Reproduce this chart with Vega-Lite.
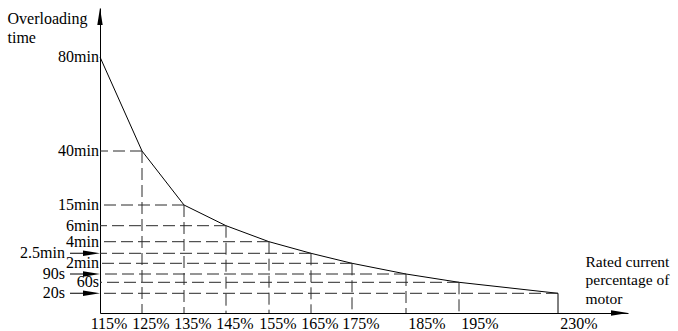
{
  "$schema": "https://vega.github.io/schema/vega-lite/v6.json",
  "width": 578,
  "height": 305,
  "autosize": "none",
  "padding": {"left": 100, "top": 8, "right": 0, "bottom": 18},
  "background": "white",
  "config": {
    "view": {"stroke": null},
    "font": "Liberation Serif",
    "text": {"font": "Liberation Serif"},
    "axis": {"titleFont": "Liberation Serif", "labelFont": "Liberation Serif"},
    "style": {
      "guide-title": {"font": "Liberation Serif", "fontWeight": "normal"},
      "guide-label": {"font": "Liberation Serif"}
    }
  },
  "datasets": {
    "curve": [
      {"pct": 115, "t": 4800, "label": "80min"},
      {"pct": 125, "t": 2400, "label": "40min"},
      {"pct": 135, "t": 900, "label": "15min"},
      {"pct": 145, "t": 360, "label": "6min"},
      {"pct": 155, "t": 240, "label": "4min"},
      {"pct": 165, "t": 150, "label": "2.5min"},
      {"pct": 175, "t": 120, "label": "2min"},
      {"pct": 185, "t": 90, "label": "90s"},
      {"pct": 195, "t": 60, "label": "60s"},
      {"pct": 230, "t": 20, "label": "20s"}
    ]
  },
  "data": {"name": "curve"},
  "layer": [
    {
      "mark": {"type": "line", "color": "black", "strokeWidth": 1},
      "encoding": {
        "x": {
          "field": "pct", "type": "quantitative",
          "scale": {"domain": [115, 125, 135, 145, 155, 165, 175, 185, 195, 230, 250], "range": [0, 42, 84, 126, 169, 211, 252, 306, 359, 458, 528], "zero": false, "nice": false},
          "axis": {
            "title": ["Rated current", "percentage of", "motor"],
            "titleAngle": 0, "titleAlign": "left", "titleBaseline": "alphabetic",
            "titleX": 485, "titleY": -47, "titleLineHeight": 18.5,
            "titleFont": "Liberation Serif", "titleFontSize": 15.5, "titleFontWeight": "normal", "titleColor": "black",
            "labels": false, "ticks": false, "grid": false, "domainColor": "black", "domainWidth": 1
          }
        },
        "y": {
          "field": "t", "type": "quantitative",
          "scale": {"domain": [0, 20, 60, 90, 120, 150, 240, 360, 900, 2400, 4800, 6000], "range": [305, 285.3, 274.3, 266, 255.3, 245.3, 233.7, 217.7, 197, 143, 49, 0], "zero": false, "nice": false},
          "axis": {
            "title": ["Overloading", "time"],
            "titleAngle": 0, "titleAlign": "left", "titleBaseline": "alphabetic",
            "titleX": -93, "titleY": 15, "titleLineHeight": 19,
            "titleFont": "Liberation Serif", "titleFontSize": 16, "titleFontWeight": "normal", "titleColor": "black",
            "labels": false, "ticks": false, "grid": false, "domainColor": "black", "domainWidth": 1
          }
        }
      }
    },
    {
      "transform": [{"filter": "datum.pct > 115"}],
      "mark": {"type": "rule", "color": "#2a2a2a", "strokeWidth": 1, "strokeDash": [12, 5]},
      "encoding": {
        "x": {"field": "pct", "type": "quantitative"},
        "x2": {"datum": 115},
        "y": {"field": "t", "type": "quantitative"}
      }
    },
    {
      "transform": [{"filter": "datum.pct > 115 && datum.pct < 230"}],
      "mark": {"type": "rule", "color": "#2a2a2a", "strokeWidth": 1, "strokeDash": [12, 5]},
      "encoding": {
        "x": {"field": "pct", "type": "quantitative"},
        "y": {"field": "t", "type": "quantitative"},
        "y2": {"datum": 0}
      }
    },
    {
      "transform": [{"filter": "datum.pct == 230"}],
      "mark": {"type": "rule", "color": "black", "strokeWidth": 1},
      "encoding": {
        "x": {"field": "pct", "type": "quantitative"},
        "y": {"field": "t", "type": "quantitative"},
        "y2": {"datum": 0}
      }
    },
    {
      "transform": [{"filter": "datum.pct < 185"}, {"calculate": "datum.pct + '%'", "as": "pctText"}],
      "mark": {"type": "text", "align": "center", "baseline": "top", "dx": 9, "dy": 3, "font": "Liberation Serif", "fontSize": 16, "color": "black"},
      "encoding": {
        "x": {"field": "pct", "type": "quantitative"},
        "y": {"datum": 0, "type": "quantitative"},
        "text": {"field": "pctText", "type": "nominal"}
      }
    },
    {
      "transform": [{"filter": "datum.pct >= 185"}, {"calculate": "datum.pct + '%'", "as": "pctText"}],
      "mark": {"type": "text", "align": "center", "baseline": "top", "dx": 21, "dy": 3, "font": "Liberation Serif", "fontSize": 16, "color": "black"},
      "encoding": {
        "x": {"field": "pct", "type": "quantitative"},
        "y": {"datum": 0, "type": "quantitative"},
        "text": {"field": "pctText", "type": "nominal"}
      }
    },
    {
      "transform": [{"filter": {"not": {"field": "label", "oneOf": ["2.5min", "90s", "20s"]}}}],
      "mark": {"type": "text", "align": "right", "baseline": "middle", "dx": -1, "font": "Liberation Serif", "fontSize": 16, "color": "black"},
      "encoding": {
        "x": {"datum": 115, "type": "quantitative"},
        "y": {"field": "t", "type": "quantitative"},
        "text": {"field": "label", "type": "nominal"}
      }
    },
    {
      "transform": [{"filter": {"field": "label", "oneOf": ["2.5min", "90s", "20s"]}}],
      "mark": {"type": "text", "align": "right", "baseline": "middle", "dx": -35, "font": "Liberation Serif", "fontSize": 16, "color": "black"},
      "encoding": {
        "x": {"datum": 115, "type": "quantitative"},
        "y": {"field": "t", "type": "quantitative"},
        "text": {"field": "label", "type": "nominal"}
      }
    },
    {
      "transform": [{"filter": {"field": "label", "oneOf": ["2.5min", "90s", "20s"]}}],
      "mark": {"type": "point", "filled": true, "opacity": 1, "color": "black", "size": 400, "shape": "M0,0L-1.7,-0.27L-1.7,-0.05L-3,-0.05L-3,0.05L-1.7,0.05L-1.7,0.27Z"},
      "encoding": {
        "x": {"datum": 115, "type": "quantitative"},
        "y": {"field": "t", "type": "quantitative"}
      }
    },
    {
      "data": {"values": [{"axis": "y"}]},
      "mark": {"type": "point", "filled": true, "opacity": 1, "color": "black", "size": 400, "shape": "M0,0L-0.27,1.7L0.27,1.7Z"},
      "encoding": {
        "x": {"datum": 115, "type": "quantitative"},
        "y": {"datum": 6000, "type": "quantitative"}
      }
    },
    {
      "data": {"values": [{"axis": "x"}]},
      "mark": {"type": "point", "filled": true, "opacity": 1, "color": "black", "size": 400, "shape": "M0,0L-1.7,-0.27L-1.7,0.27Z"},
      "encoding": {
        "x": {"datum": 250, "type": "quantitative"},
        "y": {"datum": 0, "type": "quantitative"}
      }
    }
  ]
}
